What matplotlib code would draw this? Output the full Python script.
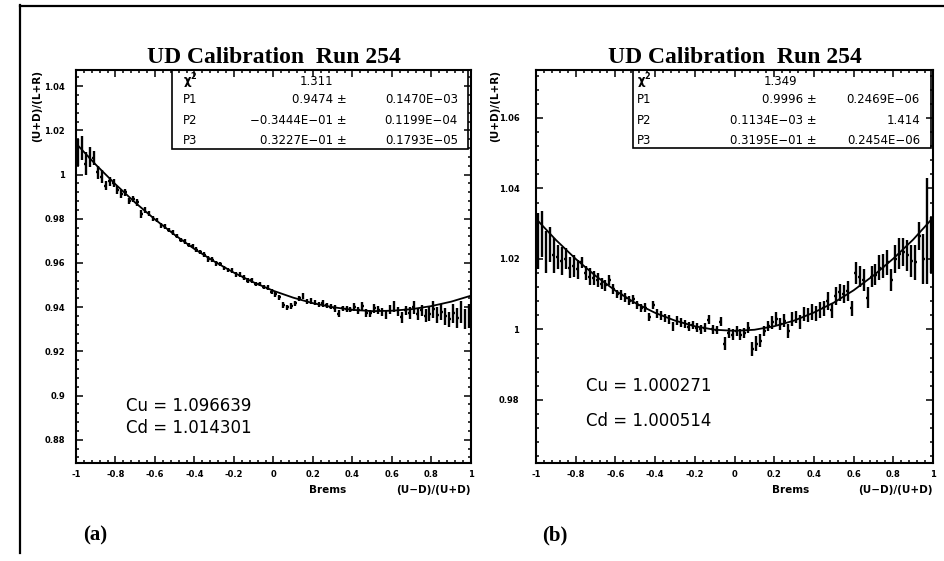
"""UD calibration fits, run 254: (a) and (b) panels in PAW style
"""

import numpy as np
import matplotlib as mpl
mpl.use('Agg')
import matplotlib.pyplot as plt
from matplotlib.lines import Line2D
from matplotlib.patches import Rectangle
from matplotlib.ticker import AutoMinorLocator

# ---------------------------------------------------------------- data
brems_bins = np.linspace(-0.99, 0.99, 100)   # bin centres of (U-D)/(U+D)

left_y = [1.0100, 1.0120, 1.0050, 1.0080, 1.0075,
          1.0010, 0.9990, 0.9950, 0.9970, 0.9960,
          0.9930, 0.9910, 0.9920, 0.9880, 0.9890,
          0.9875, 0.9820, 0.9840, 0.9825, 0.9800,
          0.9795, 0.9770, 0.9765, 0.9750, 0.9738,
          0.9722, 0.9703, 0.9698, 0.9680, 0.9676,
          0.9660, 0.9650, 0.9638, 0.9618, 0.9615,
          0.9598, 0.9595, 0.9578, 0.9568, 0.9565,
          0.9548, 0.9547, 0.9535, 0.9520, 0.9522,
          0.9506, 0.9505, 0.9490, 0.9488, 0.9470,
          0.9460, 0.9445, 0.9410, 0.9400, 0.9405,
          0.9418, 0.9440, 0.9450, 0.9425, 0.9428,
          0.9420, 0.9412, 0.9418, 0.9408, 0.9402,
          0.9395, 0.9370, 0.9395, 0.9392, 0.9388,
          0.9400, 0.9386, 0.9405, 0.9375, 0.9372,
          0.9395, 0.9388, 0.9378, 0.9365, 0.9390,
          0.9405, 0.9380, 0.9355, 0.9385, 0.9375,
          0.9400, 0.9370, 0.9385, 0.9362, 0.9370,
          0.9390, 0.9365, 0.9378, 0.9358, 0.9345,
          0.9372, 0.9350, 0.9380, 0.9345, 0.9360]

left_err = [0.0060, 0.0055, 0.0050, 0.0045, 0.0030,
            0.0030, 0.0030, 0.0020, 0.0020, 0.0018,
            0.0018, 0.0018, 0.0015, 0.0015, 0.0015,
            0.0015, 0.0018, 0.0012, 0.0012, 0.0012,
            0.0010, 0.0012, 0.0010, 0.0010, 0.0012,
            0.0010, 0.0010, 0.0012, 0.0010, 0.0010,
            0.0010, 0.0010, 0.0010, 0.0012, 0.0010,
            0.0010, 0.0010, 0.0010, 0.0010, 0.0012,
            0.0010, 0.0010, 0.0010, 0.0010, 0.0012,
            0.0010, 0.0010, 0.0010, 0.0012, 0.0010,
            0.0012, 0.0012, 0.0012, 0.0012, 0.0012,
            0.0012, 0.0012, 0.0015, 0.0012, 0.0012,
            0.0012, 0.0012, 0.0015, 0.0012, 0.0012,
            0.0015, 0.0015, 0.0012, 0.0015, 0.0012,
            0.0018, 0.0015, 0.0020, 0.0018, 0.0015,
            0.0020, 0.0018, 0.0020, 0.0020, 0.0020,
            0.0025, 0.0022, 0.0025, 0.0022, 0.0028,
            0.0030, 0.0028, 0.0025, 0.0030, 0.0032,
            0.0040, 0.0035, 0.0035, 0.0040, 0.0035,
            0.0042, 0.0045, 0.0050, 0.0045, 0.0055]

right_y = [1.0250, 1.0270, 1.0220, 1.0240, 1.0210,
           1.0205, 1.0195, 1.0200, 1.0175, 1.0180,
           1.0170, 1.0190, 1.0160, 1.0150, 1.0145,
           1.0140, 1.0130, 1.0125, 1.0140, 1.0115,
           1.0100, 1.0098, 1.0090, 1.0082, 1.0085,
           1.0070, 1.0060, 1.0062, 1.0035, 1.0070,
           1.0045, 1.0040, 1.0032, 1.0028, 1.0008,
           1.0025, 1.0020, 1.0015, 1.0008, 1.0012,
           1.0005, 1.0000, 1.0005, 1.0028, 1.0000,
           0.9998, 1.0022, 0.9960, 0.9990, 0.9985,
           0.9995, 0.9985, 0.9990, 1.0005, 0.9945,
           0.9960, 0.9968, 0.9995, 1.0010, 1.0020,
           1.0030, 1.0015, 1.0025, 0.9995, 1.0030,
           1.0035, 1.0020, 1.0045, 1.0040, 1.0050,
           1.0045, 1.0055, 1.0060, 1.0080, 1.0054,
           1.0095, 1.0105, 1.0100, 1.0110, 1.0060,
           1.0160, 1.0150, 1.0140, 1.0090, 1.0150,
           1.0155, 1.0175, 1.0180, 1.0190, 1.0140,
           1.0200, 1.0215, 1.0220, 1.0210, 1.0195,
           1.0190, 1.0265, 1.0200, 1.0280, 1.0240]

right_err = [0.0080, 0.0065, 0.0060, 0.0050, 0.0050,
             0.0035, 0.0040, 0.0030, 0.0030, 0.0030,
             0.0028, 0.0015, 0.0020, 0.0025, 0.0020,
             0.0020, 0.0015, 0.0015, 0.0015, 0.0015,
             0.0012, 0.0015, 0.0012, 0.0012, 0.0012,
             0.0012, 0.0012, 0.0012, 0.0012, 0.0012,
             0.0012, 0.0012, 0.0012, 0.0012, 0.0012,
             0.0012, 0.0012, 0.0012, 0.0012, 0.0012,
             0.0012, 0.0012, 0.0012, 0.0012, 0.0012,
             0.0012, 0.0012, 0.0018, 0.0015, 0.0015,
             0.0015, 0.0015, 0.0015, 0.0015, 0.0020,
             0.0020, 0.0018, 0.0015, 0.0015, 0.0018,
             0.0018, 0.0018, 0.0018, 0.0020, 0.0020,
             0.0018, 0.0020, 0.0020, 0.0020, 0.0022,
             0.0022, 0.0022, 0.0022, 0.0025, 0.0022,
             0.0025, 0.0025, 0.0025, 0.0028, 0.0022,
             0.0030, 0.0030, 0.0030, 0.0030, 0.0030,
             0.0030, 0.0035, 0.0035, 0.0035, 0.0030,
             0.0040, 0.0045, 0.0040, 0.0045, 0.0045,
             0.0050, 0.0040, 0.0070, 0.0150, 0.0080]

# fitted curves, read at steps of 0.1
fit_x = [-1.0, -0.9, -0.8, -0.7, -0.6, -0.5, -0.4, -0.3, -0.2, -0.1, 0.0,
         0.1, 0.2, 0.3, 0.4, 0.5, 0.6, 0.7, 0.8, 0.9, 1.0]
left_fit = [1.0141, 1.0045, 0.9956, 0.9873, 0.9797, 0.9727, 0.9663, 0.9607,
            0.9556, 0.9512, 0.9474, 0.9443, 0.9418, 0.9400, 0.9388, 0.9382,
            0.9384, 0.9391, 0.9405, 0.9425, 0.9452]
right_fit = [1.0314, 1.0254, 1.0200, 1.0152, 1.0110, 1.0075, 1.0047, 1.0025,
             1.0009, 0.9999, 0.9996, 0.9999, 1.0009, 1.0025, 1.0048, 1.0076,
             1.0111, 1.0153, 1.0201, 1.0255, 1.0317]

x_ticks = [-1, -0.8, -0.6, -0.4, -0.2, 0, 0.2, 0.4, 0.6, 0.8, 1]
x_ticklabels = ['-1', '-0.8', '-0.6', '-0.4', '-0.2', '0', '0.2', '0.4',
                '0.6', '0.8', '1']
left_yticks = [0.88, 0.9, 0.92, 0.94, 0.96, 0.98, 1.0, 1.02, 1.04]
left_yticklabels = ['0.88', '0.9', '0.92', '0.94', '0.96', '0.98', '1',
                    '1.02', '1.04']
right_yticks = [0.98, 1.0, 1.02, 1.04, 1.06]
right_yticklabels = ['0.98', '1', '1.02', '1.04', '1.06']

left_stats = [('1.311',), ('P1', '0.9474 \u00b1', '0.1470E\u221203'),
              ('P2', '\u22120.3444E\u221201 \u00b1', '0.1199E\u221204'),
              ('P3', '0.3227E\u221201 \u00b1', '0.1793E\u221205')]
right_stats = [('1.349',), ('P1', '0.9996 \u00b1', '0.2469E\u221206'),
               ('P2', '0.1134E\u221203 \u00b1', '1.414'),
               ('P3', '0.3195E\u221201 \u00b1', '0.2454E\u221206')]

left_consts = ['Cu = 1.096639', 'Cd = 1.014301']
right_consts = ['Cu = 1.000271', 'Cd = 1.000514']

SANS = 'DejaVu Sans'
SERIF = 'Liberation Serif'


def axis_settings(ax, ylim, yticks, yticklabels, ypad):
    """PAW-like frame: inward ticks on all sides, bold small labels"""
    ax.set_xlim(-1, 1)
    ax.set_ylim(*ylim)
    ax.set_xticks(x_ticks)
    ax.set_xticklabels(x_ticklabels)
    ax.set_yticks(yticks)
    ax.set_yticklabels(yticklabels)
    ax.xaxis.set_minor_locator(AutoMinorLocator(5))
    ax.yaxis.set_minor_locator(AutoMinorLocator(5))
    ax.tick_params(which='both', direction='in', top=True, right=True,
                   width=1.1, color='black')
    ax.tick_params(which='major', length=5)
    ax.tick_params(which='minor', length=2.5)
    ax.tick_params(axis='x', pad=5)
    ax.tick_params(axis='y', pad=ypad)
    for label in ax.get_xticklabels() + ax.get_yticklabels():
        label.set_fontsize(6)
        label.set_fontweight('bold')
        label.set_family(SANS)
    for spine in ax.spines.values():
        spine.set_linewidth(1.5)


def stats_box(ax, rows, box, cols):
    """Fit result box in the upper right corner"""
    x0, x1, y0 = box
    ax.add_patch(Rectangle((x0, y0), x1 - x0, 1 - y0, transform=ax.transAxes,
                           fill=False, lw=1.2, ec='black', zorder=5))
    lab_x, chi_x, val_x, err_x = cols
    row_y = [0.972, 0.924, 0.872, 0.820]
    kw = dict(transform=ax.transAxes, fontsize=8.5, family=SANS,
              va='center', zorder=6)
    ax.text(lab_x, row_y[0], r'$\mathbf{\chi^2}$', ha='left', **kw)
    ax.text(chi_x, row_y[0], rows[0][0], ha='center', **kw)
    for (name, val, err), y in zip(rows[1:], row_y[1:]):
        ax.text(lab_x, y, name, ha='left', **kw)
        ax.text(val_x, y, val, ha='right', **kw)
        ax.text(err_x, y, err, ha='right', **kw)


def panel(ax, y, err, fit, ylim, yticks, yticklabels, ypad, stats, box,
          cols, consts, const_y, brems_x):
    ax.errorbar(brems_bins, y, yerr=err, xerr=0.007, fmt='none',
                ecolor='black', elinewidth=1.7, capsize=0)
    ax.plot(fit_x, fit, color='black', lw=1.3)
    axis_settings(ax, ylim, yticks, yticklabels, ypad)
    ax.set_title('UD Calibration  Run 254', family=SERIF, fontweight='bold',
                 fontsize=17, pad=5)
    stats_box(ax, stats, box, cols)
    for text, yy in zip(consts, const_y):
        ax.text(0.127, yy, text, transform=ax.transAxes, fontsize=12,
                family=SANS, va='center', ha='left')
    ax.text(brems_x, -0.069, 'Brems', transform=ax.transAxes, fontsize=7.5,
            family=SANS, fontweight='bold', ha='center', va='center')
    ax.text(1.0, -0.069, '(U\u2212D)/(U+D)', transform=ax.transAxes,
            fontsize=7.5, family=SANS, fontweight='bold', ha='right',
            va='center')


fig = plt.figure(figsize=(9.44, 5.61), dpi=100)
ax_a = fig.add_axes([0.0805, 0.1747, 0.4184, 0.7005])
ax_b = fig.add_axes([0.5678, 0.1747, 0.4206, 0.7005])

panel(ax_a, left_y, left_err, left_fit, (0.8695, 1.0473), left_yticks,
      left_yticklabels, 8, left_stats, (0.243, 0.992, 0.799),
      (0.270, 0.610, 0.686, 0.967), left_consts, (0.145, 0.090), 0.636)
panel(ax_b, right_y, right_err, right_fit, (0.9621, 1.0736), right_yticks,
      right_yticklabels, 12, right_stats, (0.244, 0.995, 0.8015),
      (0.254, 0.615, 0.708, 0.967), right_consts, (0.197, 0.108), 0.642)

# y axis titles, top aligned with the frames
fig.text(37 / 944, 1 - 70 / 561, '(U+D)/(L+R)', rotation=90, ha='center',
         va='top', fontsize=7.5, fontweight='bold', family=SANS)
fig.text(495 / 944, 1 - 70 / 561, '(U+D)/(L+R)', rotation=90, ha='center',
         va='top', fontsize=7.5, fontweight='bold', family=SANS)

# panel tags
fig.text(95 / 944, 1 - 535 / 561, '(a)', ha='center', va='center',
         fontsize=15, fontweight='bold', family=SERIF)
fig.text(555 / 944, 1 - 535 / 561, '(b)', ha='center', va='center',
         fontsize=15, fontweight='bold', family=SERIF)

# page border left by the scan
fig.add_artist(Line2D([20 / 944, 20 / 944], [1 - 5 / 561, 1 - 553 / 561],
                      transform=fig.transFigure, color='black', lw=1.6))
fig.add_artist(Line2D([20 / 944, 1.0], [1 - 6 / 561, 1 - 6 / 561],
                      transform=fig.transFigure, color='black', lw=1.6))

fig.savefig('out.png', dpi=100)
